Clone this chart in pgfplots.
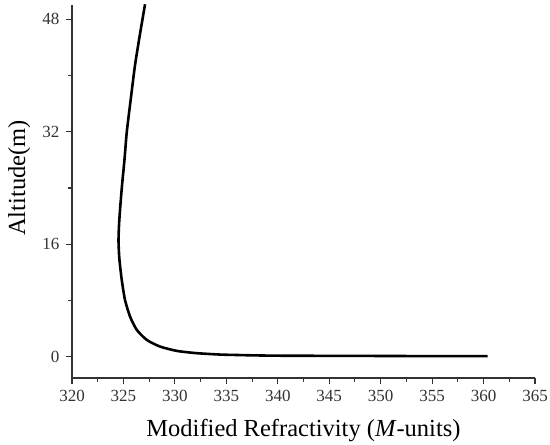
\documentclass[border=0pt]{standalone}
\usepackage{fontspec}
\setmainfont{Liberation Serif}
\usepackage{pgfplots}
\pgfplotsset{compat=1.18}
\definecolor{axgray}{HTML}{333333}
\begin{document}
\begin{tikzpicture}
\path[use as bounding box] (0,0) rectangle (550bp,445bp);
\begin{axis}[
  at={(72bp,67bp)}, anchor=south west,
  scale only axis, width=463bp, height=373bp,
  xmin=320, xmax=365, ymin=-3, ymax=50,
  axis lines*=left,
  axis line style={axgray, line width=1.1pt},
  every tick/.style={axgray, line width=1.1pt},
  tick align=outside,
  major tick length=6bp, minor tick length=3.5bp,
  minor tick num=1,
  xtick={320,325,...,365},
  ytick={0,16,32,48},
  /pgf/number format/assume math mode=true,
  /pgf/number format/1000 sep={},
  tick label style={font=\fontsize{17bp}{20bp}\selectfont, text=axgray},
  xticklabel style={yshift=-3bp},
  yticklabel style={xshift=-3bp},
  xlabel={Modified Refractivity (\textit{M}-units)},
  ylabel={Altitude(m)},
  every axis x label/.style={font=\fontsize{24.5bp}{29bp}\selectfont, at={(axis description cs:0.5,-0.1555)}, anchor=base},
  every axis y label/.style={font=\fontsize{24.5bp}{29bp}\selectfont, at={(axis description cs:-0.1015,0.536)}, rotate=90, anchor=base},
]
\addplot[black, line width=2.6pt, smooth, tension=0.4] coordinates {
(360.4,0.10)
(355,0.11)
(350,0.13)
(345,0.15)
(340,0.17)
(337.5,0.22)
(336.3,0.26)
(334.4,0.33)
(332.1,0.53)
(330.2,0.85)
(328.55,1.47)
(327.26,2.42)
(326.29,3.85)
(325.64,5.74)
(325.15,8.1)
(324.83,11.0)
(324.6,14)
(324.52,16.5)
(324.58,19)
(324.7,21.5)
(324.87,24.5)
(325.1,28)
(325.32,31.9)
(325.7,36.5)
(326.12,41.4)
(326.6,45.8)
(327.1,50.1)
};
\end{axis}
\end{tikzpicture}
\end{document}
